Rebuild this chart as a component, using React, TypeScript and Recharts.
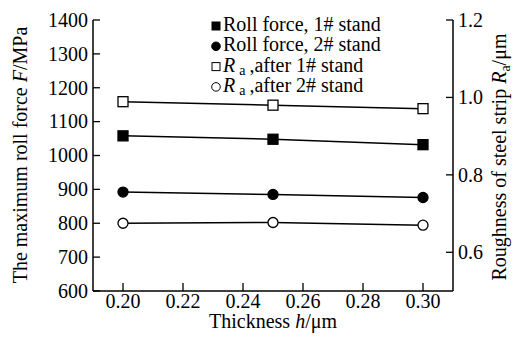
import React from 'react';
import { ComposedChart, Line, XAxis, YAxis } from 'recharts';

const thickness = [0.2, 0.25, 0.3];
const rollForce1 = [1058, 1048, 1032];
const rollForce2 = [892, 885, 876];
const roughness1 = [0.989, 0.98, 0.971];
const roughness2 = [0.675, 0.677, 0.67];

const xTicks = [0.2, 0.22, 0.24, 0.26, 0.28, 0.3];
const leftTicks = [600, 700, 800, 900, 1000, 1100, 1200, 1300, 1400];
const rightTicks = [0.6, 0.8, 1.0, 1.2];

const legendLabels = ['Roll force, 1# stand', 'Roll force, 2# stand', ',after 1# stand', ',after 2# stand'];

const data = thickness.map((h, i) => ({
  h,
  f1: rollForce1[i],
  f2: rollForce2[i],
  r1: roughness1[i],
  r2: roughness2[i],
}));

const FONT = '"Liberation Serif", "Times New Roman", serif';
const FS = 20;
const TM = 5;

const LeftTick = (p: any) => {
  const { x, y, payload } = p;
  return (
    <g>
      <line x1={x + TM} x2={x + TM + 7} y1={y} y2={y} stroke="#000" strokeWidth={1.3} />
      <text x={x} y={y} dy="0.34em" textAnchor="end" fontFamily={FONT} fontSize={FS} fill="#000">
        {payload.value}
      </text>
    </g>
  );
};

const RightTick = (p: any) => {
  const { x, y, payload } = p;
  return (
    <g>
      <line x1={x - TM} x2={x - TM - 7} y1={y} y2={y} stroke="#000" strokeWidth={1.3} />
      <text x={x} y={y} dy="0.34em" textAnchor="start" fontFamily={FONT} fontSize={FS} fill="#000">
        {Number(payload.value).toFixed(1)}
      </text>
    </g>
  );
};

const BottomTick = (p: any) => {
  const { x, y, payload } = p;
  return (
    <g>
      <line x1={x} x2={x} y1={y - TM} y2={y - TM - 8} stroke="#000" strokeWidth={1.3} />
      <text x={x} y={y} dy="0.6em" textAnchor="middle" fontFamily={FONT} fontSize={FS} fill="#000">
        {Number(payload.value).toFixed(2)}
      </text>
    </g>
  );
};

const squareDot = (filled: boolean) => (p: any) => {
  const { cx, cy, key } = p;
  if (cx == null || cy == null) return <g key={key} />;
  return (
    <rect
      key={key}
      x={cx - 5}
      y={cy - 5}
      width={10}
      height={10}
      fill={filled ? '#000' : '#fff'}
      stroke="#000"
      strokeWidth={1.3}
    />
  );
};

const circleDot = (filled: boolean) => (p: any) => {
  const { cx, cy, key } = p;
  if (cx == null || cy == null) return <g key={key} />;
  return <circle key={key} cx={cx} cy={cy} r={5} fill={filled ? '#000' : '#fff'} stroke="#000" strokeWidth={1.3} />;
};

const LeftTitle = () => (
  <text x={27} y={155} transform="rotate(-90 27 155)" textAnchor="middle" fontFamily={FONT} fontSize={FS} fill="#000">
    The maximum roll force <tspan fontStyle="italic">F</tspan>/MPa
  </text>
);

const RightTitle = () => (
  <text x={506} y={157} transform="rotate(-90 506 157)" textAnchor="middle" fontFamily={FONT} fontSize={FS} fill="#000">
    Roughness of steel strip <tspan fontStyle="italic">R</tspan>
    <tspan fontSize={14} dy={4}>a</tspan>
    <tspan dy={-4}>/μm</tspan>
  </text>
);

const BottomTitle = () => (
  <text x={273} y={328} textAnchor="middle" fontFamily={FONT} fontSize={FS} fill="#000">
    Thickness <tspan fontStyle="italic">h</tspan>/μm
  </text>
);

const LegendOverlay = () => {
  const rows = [0, 1, 2, 3];
  const x0 = 216;
  const y0 = 26;
  const gap = 20.3;
  return (
    <svg width={514} height={340} style={{ position: 'absolute', left: 0, top: 0, pointerEvents: 'none' }}>
      {rows.map((i) => {
        const cy = y0 + i * gap;
        const filled = i < 2;
        const isSquare = i % 2 === 0;
        return (
          <g key={i}>
            {isSquare ? (
              <rect x={x0 - 4} y={cy - 4} width={8} height={8} fill={filled ? '#000' : '#fff'} stroke="#000" strokeWidth={1} />
            ) : (
              <circle cx={x0} cy={cy} r={4.3} fill={filled ? '#000' : '#fff'} stroke="#000" strokeWidth={1} />
            )}
            <text x={x0 + 7} y={cy + 5} fontFamily={FONT} fontSize={FS} fill="#000">
              {i < 2 ? (
                legendLabels[i]
              ) : (
                <>
                  <tspan fontStyle="italic">R</tspan>
                  <tspan fontSize={14} dx={4} dy={3}>a</tspan>
                  <tspan dx={4} dy={-3}>{legendLabels[i]}</tspan>
                </>
              )}
            </text>
          </g>
        );
      })}
    </svg>
  );
};

export default function App() {
  return (
    <div style={{ position: 'absolute', left: 0, top: 0, width: 514, height: 340, background: '#fff' }}>
      <ComposedChart width={514} height={340} data={data} margin={{ top: 20, right: 0, bottom: 0, left: 0 }}>
        <XAxis
          dataKey="h"
          type="number"
          domain={[0.19, 0.31]}
          ticks={xTicks}
          height={49}
          tickLine={false}
          tickSize={0}
          tickMargin={TM}
          tick={<BottomTick />}
          axisLine={{ stroke: '#000', strokeWidth: 1.5 }}
          interval={0}
        />
        <YAxis
          yAxisId="left"
          orientation="left"
          domain={[600, 1400]}
          ticks={leftTicks}
          width={93}
          tickLine={false}
          tickSize={0}
          tickMargin={TM}
          tick={<LeftTick />}
          axisLine={{ stroke: '#000', strokeWidth: 1.5 }}
          interval={0}
        />
        <YAxis
          yAxisId="right"
          orientation="right"
          domain={[0.5, 1.2]}
          ticks={rightTicks}
          width={61}
          tickLine={false}
          tickSize={0}
          tickMargin={TM}
          tick={<RightTick />}
          axisLine={{ stroke: '#000', strokeWidth: 1.5 }}
          interval={0}
        />
        <Line yAxisId="left" dataKey="f1" stroke="#000" strokeWidth={1.5} dot={squareDot(true)} isAnimationActive={false} />
        <Line yAxisId="left" dataKey="f2" stroke="#000" strokeWidth={1.5} dot={circleDot(true)} isAnimationActive={false} />
        <Line yAxisId="right" dataKey="r1" stroke="#000" strokeWidth={1.5} dot={squareDot(false)} isAnimationActive={false} />
        <Line yAxisId="right" dataKey="r2" stroke="#000" strokeWidth={1.5} dot={circleDot(false)} isAnimationActive={false} />
      </ComposedChart>
      <svg width={514} height={340} style={{ position: 'absolute', left: 0, top: 0, pointerEvents: 'none' }}>
        <LeftTitle />
        <RightTitle />
        <BottomTitle />
      </svg>
      <LegendOverlay />
    </div>
  );
}
